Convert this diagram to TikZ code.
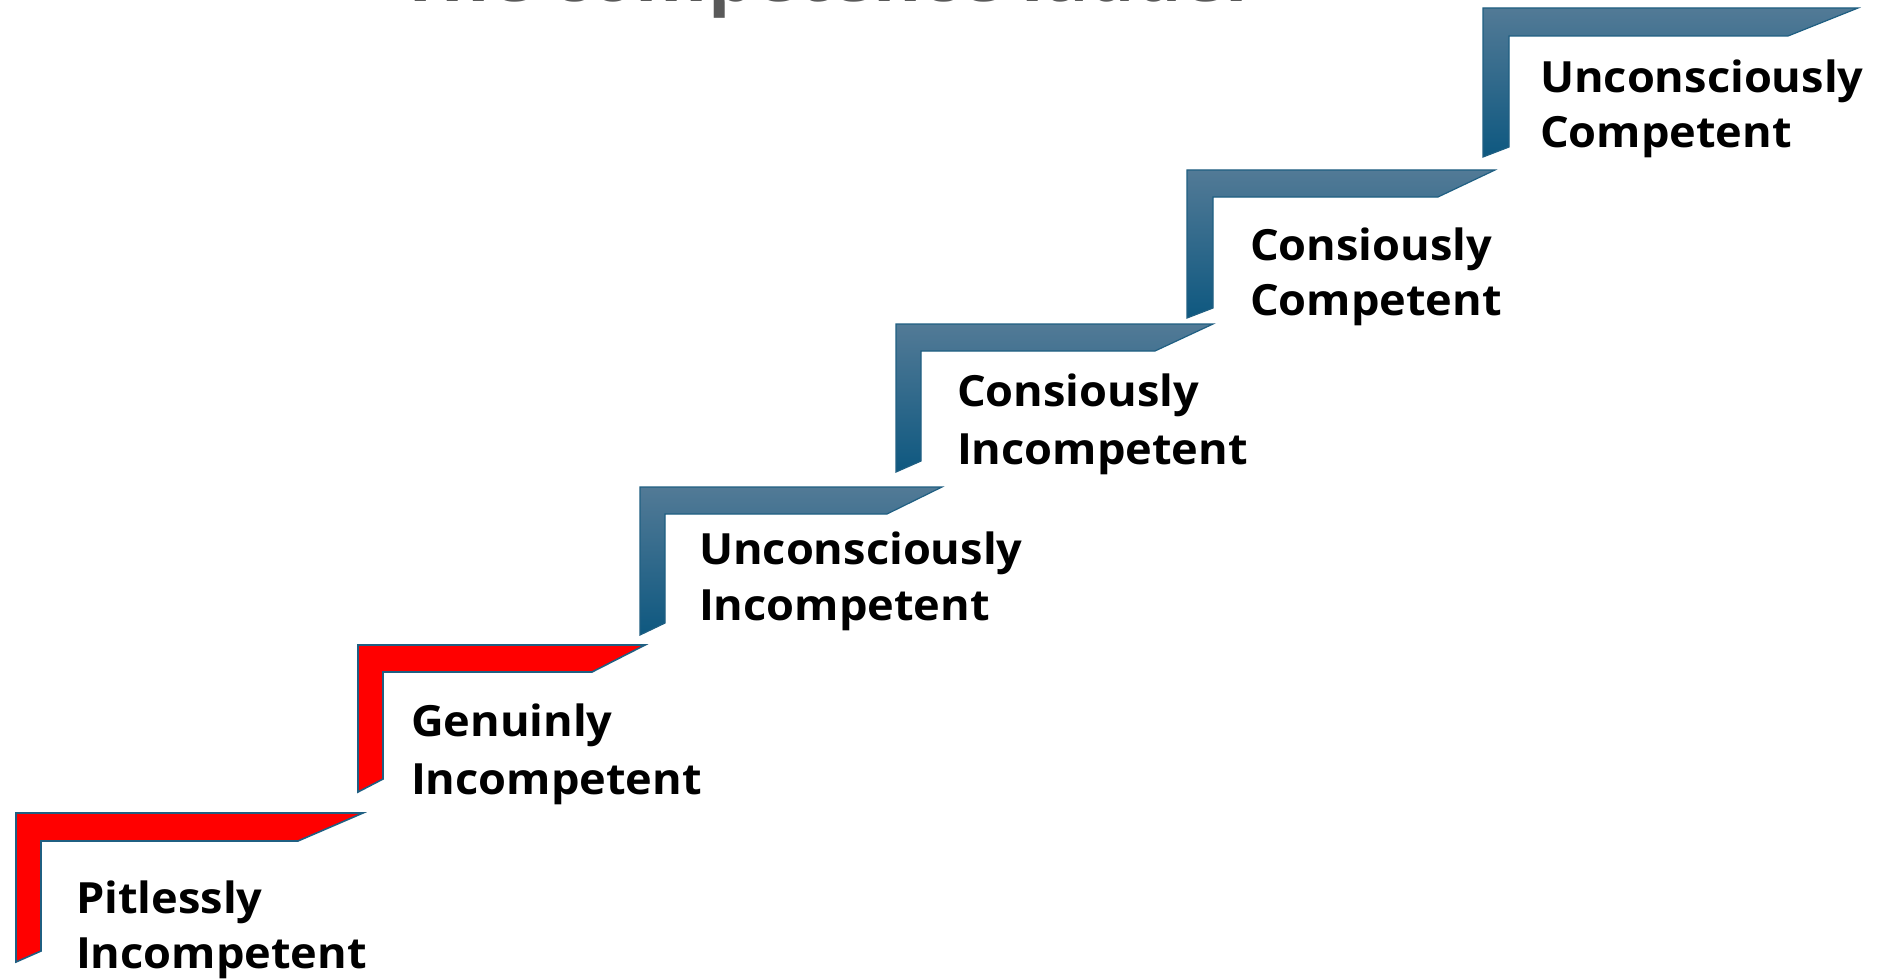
\documentclass[tikz,border=0pt]{standalone}
\usepackage{fontspec}
\setmainfont{Open Sans}
\newfontfamily\lblfont[FakeStretch=1.05]{Open Sans}
\definecolor{edgeblue}{RGB}{31,95,130}
\definecolor{toptone}{RGB}{82,122,150}
\definecolor{bottone}{RGB}{14,88,128}
\definecolor{titlegray}{RGB}{89,89,89}
\definecolor{redfill}{RGB}{255,0,0}
\tikzset{
  redstep/.style={fill=redfill, draw=edgeblue, line width=1.6pt, line join=miter},
  bluestep/.style={top color=toptone, bottom color=bottone, draw=edgeblue, line width=1.2pt, line join=miter},
  lbl/.style={anchor=base west, inner sep=0pt, outer sep=0pt, text=black, font=\lblfont\fontsize{43}{50}\selectfont\bfseries},
  ttl/.style={anchor=base, inner sep=0pt, text=titlegray, font=\lblfont\fontsize{70}{74}\selectfont\bfseries}
}
% #1 style, #2 L, #3 T, #4 tip X, #5 bar bottom B, #6 slant inner S, #7 inner left IL, #8 bottom Y, #9 inner bottom IY
\newcommand\ladderstep[9]{%
  \path[#1] (#2,#3) -- (#4,#3) -- (#6,#5) -- (#7,#5) -- (#7,#9) -- (#2,#8) -- cycle;}
\begin{document}
\begin{tikzpicture}[x=1pt,y=-1pt]
\useasboundingbox (0,0) rectangle (1883,979);
\clip (0,0) rectangle (1883,979);
\fill[white] (0,0) rectangle (1883,979);

\node[ttl] (title) at (829,2) {The competence ladder};

\ladderstep{redstep}{16}{813}{363}{841}{298}{41}{962}{951}
\ladderstep{redstep}{358}{645}{645}{672}{592}{383}{792}{779}
\ladderstep{bluestep}{640}{487}{942}{514}{887}{665}{635}{623}
\ladderstep{bluestep}{896}{324}{1213}{351}{1155}{921}{472}{461}
\ladderstep{bluestep}{1187}{170}{1495}{197}{1438}{1213}{318}{308}
\ladderstep{bluestep}{1483}{8}{1858}{36}{1788}{1509}{157}{147}

\node[lbl] (s1a) at (76,913) {Pitlessly};
\node[lbl] (s1b) at (76,968) {Incompetent};
\node[lbl] (s2a) at (411,736) {Genuinly};
\node[lbl] (s2b) at (411,794) {Incompetent};
\node[lbl] (s3a) at (699,564) {Unconsciously};
\node[lbl] (s3b) at (699,620) {Incompetent};
\node[lbl] (s4a) at (957,406) {Consiously};
\node[lbl] (s4b) at (957,464) {Incompetent};
\node[lbl] (s5a) at (1250,260) {Consiously};
\node[lbl] (s5b) at (1250,315) {Competent};
\node[lbl] (s6a) at (1540,93) {Unconsciously};
\node[lbl] (s6b) at (1540,148) {Competent};
\end{tikzpicture}
\end{document}
